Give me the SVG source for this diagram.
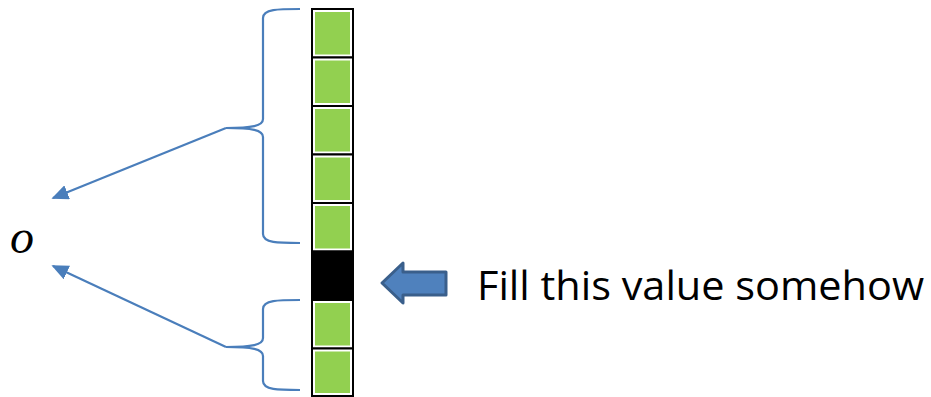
<svg xmlns="http://www.w3.org/2000/svg" width="931" height="397" viewBox="0 0 931 397">
<style>
.cell{fill:#fff;stroke:#000;stroke-width:2}
.green{fill:#92D050}
.brace{fill:none;stroke:#4A7EBB;stroke-width:2.2}
.conn{fill:none;stroke:#4A7EBB;stroke-width:2.2}
</style>
<defs>
<marker id="ah" viewBox="0 0 10 10" refX="9" refY="5" markerWidth="17" markerHeight="15" markerUnits="userSpaceOnUse" orient="auto" preserveAspectRatio="none">
<path d="M0,0 L10,5 L0,10 z" fill="#4A7EBB"/>
</marker>
</defs>
<rect width="931" height="397" fill="#fff"/>
<g id="column">
<g id="cell0"><rect class="cell" x="312" y="9" width="41" height="48.5"/><rect class="green" x="315" y="12" width="35" height="42.5"/></g>
<g id="cell1"><rect class="cell" x="312" y="57.5" width="41" height="48.5"/><rect class="green" x="315" y="60.5" width="35" height="42.5"/></g>
<g id="cell2"><rect class="cell" x="312" y="106" width="41" height="48.5"/><rect class="green" x="315" y="109" width="35" height="42.5"/></g>
<g id="cell3"><rect class="cell" x="312" y="154.5" width="41" height="48.5"/><rect class="green" x="315" y="157.5" width="35" height="42.5"/></g>
<g id="cell4"><rect class="cell" x="312" y="203" width="41" height="48.5"/><rect class="green" x="315" y="206" width="35" height="42.5"/></g>
<g id="cell5"><rect class="cell" x="312" y="251.5" width="41" height="48.5" style="fill:#000"/></g>
<g id="cell6"><rect class="cell" x="312" y="300" width="41" height="48.5"/><rect class="green" x="315" y="303" width="35" height="42.5"/></g>
<g id="cell7"><rect class="cell" x="312" y="348.5" width="41" height="47.5"/><rect class="green" x="315" y="351.5" width="35" height="41.5"/></g>
</g>
<g id="brace-top">
<path class="brace" d="M300,9 C278,9 263,9 263,18 L263,119 C263,126 252,128 226,128 C252,128 263,130 263,137 L263,234 C263,243 278,243 300,243"/>
</g>
<g id="brace-bottom">
<path class="brace" d="M300,300 C278,300 263,300 263,309 L263,338 C263,345 252,347 226,347 C252,347 263,349 263,356 L263,381 C263,390 278,390 300,390"/>
</g>
<g id="o-node">
<text x="10" y="253" font-family="Liberation Serif, serif" font-style="italic" font-size="48" fill="#000">o</text>
</g>
<g id="block-arrow">
<polygon points="382,283 403,263 403,272 446,272 446,295 403,295 403,303" fill="#4F81BD" stroke="#3A5F8B" stroke-width="3" stroke-linejoin="round"/>
</g>
<g id="label">
<text x="477" y="300" font-family="Open Sans, Liberation Sans, sans-serif" font-size="41" fill="#000" textLength="447" lengthAdjust="spacingAndGlyphs">Fill this value somehow</text>
</g>
<g id="connectors">
<line class="conn" x1="226" y1="128" x2="53" y2="198" marker-end="url(#ah)"/>
<line class="conn" x1="226" y1="347" x2="53" y2="266" marker-end="url(#ah)"/>
</g>
</svg>
